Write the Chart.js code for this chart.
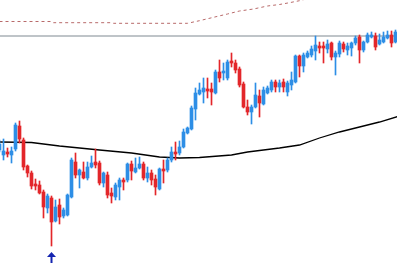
<!DOCTYPE html>
<html>
<head>
<meta charset="utf-8">
<script src="https://cdn.jsdelivr.net/npm/chart.js@4.4.1/dist/chart.umd.min.js"></script>
<style>
    html, body { margin: 0; padding: 0; background: #ffffff; }
    #wrap { width: 397px; height: 277px; position: relative; }
</style>
</head>
<body>
<div id="wrap"><canvas id="candles"></canvas></div>
<script>
// --- Data (one entry per candle, left to right) ---
const opens = [
    150,145,148,145,151,174,160,134,127,116,
    115,108,92,102,79,95,84,85,103,138,
    125,128,122,133,138,137,117,125,107,103,
    113,120,120,136,128,132,136,122,127,121,
    111,131,130,140,148,147,153,167,171,191,
    206,208,211,211,207,228,227,222,239,237,
    231,216,193,188,193,204,196,207,210,218,
    213,218,208,215,218,244,234,243,245,249,
    254,254,251,257,243,246,256,250,252,257,
    263,250,258,263,264,256,258,262,265,258
];
const highs = [
    160,161,152,153,177,179,162,135,129,121,
    119,110,106,104,100,101,92,106,142,147,
    131,138,138,144,151,139,128,128,112,117,
    122,122,137,139,142,143,138,133,130,125,
    132,140,142,153,158,159,171,173,194,212,
    217,222,222,217,230,240,237,240,247,240,
    233,218,200,195,217,210,213,214,220,220,
    220,221,219,228,245,245,247,249,254,264,
    258,258,260,258,249,259,258,257,258,264,
    265,259,267,268,267,266,268,269,269,270
];
const lows = [
    148,140,143,137,149,157,130,123,111,110,
    106,82,87,54,78,76,82,84,102,122,
    112,121,120,132,132,115,113,102,97,100,
    100,110,118,120,127,131,120,118,115,105,
    110,117,128,138,140,145,152,166,170,180,
    205,197,202,195,206,218,220,220,233,227,
    213,192,185,176,192,183,195,206,208,208,
    208,208,204,210,217,223,228,242,243,240,
    247,237,247,240,225,243,248,245,244,255,
    237,248,257,262,250,255,257,261,253,257
];
const closes = [
    156,149,146,149,175,161,133,127,114,114,
    107,93,104,78,93,83,90,105,140,125,
    130,122,133,137,135,117,127,105,104,115,
    120,118,136,129,132,136,122,127,120,113,
    131,129,140,148,146,153,168,172,192,207,
    210,212,209,208,228,222,229,238,237,230,
    215,193,188,193,205,197,210,212,218,213,
    217,213,217,220,244,234,245,247,251,255,
    252,252,256,243,247,257,251,254,257,262,
    250,258,265,265,253,260,263,265,257,268
];

// moving average (black line), read at some candles
const maIndex = [0, 8, 15, 25, 33, 40, 45, 50, 58, 62, 70, 75, 80, 85, 90, 95, 100];
const maValue = [158, 157.5, 154, 150, 147, 143, 142, 142.5, 145, 148, 152, 155, 162, 168, 173, 178, 184];

// upper band (dashed red line)
const bandIndex = [0, 13, 13.5, 28, 28.5, 47, 50, 53.5, 57, 60, 63.5, 67, 70, 72.5, 75, 77];
const bandValue = [278.5, 278.5, 277.3, 277.3, 276.7, 276.7, 279.3, 282.7, 286, 289, 291, 294, 295.5, 297.3, 299.3, 301.5];

// horizontal level and the signal arrow
const levelValue = 264;
const arrowIndex = 13;
const arrowValue = 42.5;

// --- Colours ---
const upColor = '#2d8ee6';
const downColor = '#e3262a';

// build the datasets from the arrays
const wicks = [], bodies = [], candleColors = [];
for (let i = 0; i < opens.length; i++) {
    wicks.push({ x: i, y: [lows[i], highs[i]] });
    let o = opens[i], c = closes[i];
    if (Math.abs(o - c) < 1) c = o + (c >= o ? 1 : -1);
    bodies.push({ x: i, y: [o, c] });
    candleColors.push(closes[i] >= opens[i] ? upColor : downColor);
}

// little up arrow used as a point style
function makeArrow() {
    const cv = document.createElement('canvas');
    cv.width = 9; cv.height = 11;
    const g = cv.getContext('2d');
    g.fillStyle = '#1424b0';
    g.beginPath();
    g.moveTo(4.5, 0);
    g.lineTo(0, 5);
    g.lineTo(9, 5);
    g.closePath();
    g.fill();
    g.fillRect(3.5, 4, 2, 7);
    return cv;
}

const ctx = document.getElementById('candles').getContext('2d');
new Chart(ctx, {
    type: 'bar',
    data: {
        datasets: [
            {
                type: 'line',
                data: bandIndex.map((x, i) => ({ x: x, y: bandValue[i] })),
                borderColor: '#b86a6a',
                borderWidth: 1,
                borderDash: [3, 3],
                pointRadius: 0,
                tension: 0,
                order: 5
            },
            {
                type: 'line',
                data: [{ x: -1, y: levelValue }, { x: 101, y: levelValue }],
                borderColor: '#7f8991',
                borderWidth: 1,
                pointRadius: 0,
                order: 5
            },
            {
                type: 'line',
                data: maIndex.map((x, i) => ({ x: x, y: maValue[i] })),
                borderColor: '#000000',
                borderWidth: 1.3,
                pointRadius: 0,
                tension: 0,
                order: 3
            },
            {
                data: wicks,
                backgroundColor: candleColors,
                barThickness: 1,
                grouped: false,
                order: 2
            },
            {
                data: bodies,
                backgroundColor: candleColors,
                barThickness: 3,
                grouped: false,
                order: 1
            },
            {
                type: 'scatter',
                data: [{ x: arrowIndex, y: arrowValue }],
                pointStyle: makeArrow(),
                pointRadius: 5,
                order: 0
            }
        ]
    },
    options: {
        responsive: true,
        maintainAspectRatio: false,
        animation: false,
        layout: { padding: 0, autoPadding: false },
        plugins: {
            legend: { display: false },
            tooltip: { enabled: false }
        },
        scales: {
            x: { type: 'linear', min: 0.125, max: 99.375, offset: false, display: false },
            y: { type: 'linear', min: 23, max: 300, display: false }
        }
    }
});
</script>
</body>
</html>
